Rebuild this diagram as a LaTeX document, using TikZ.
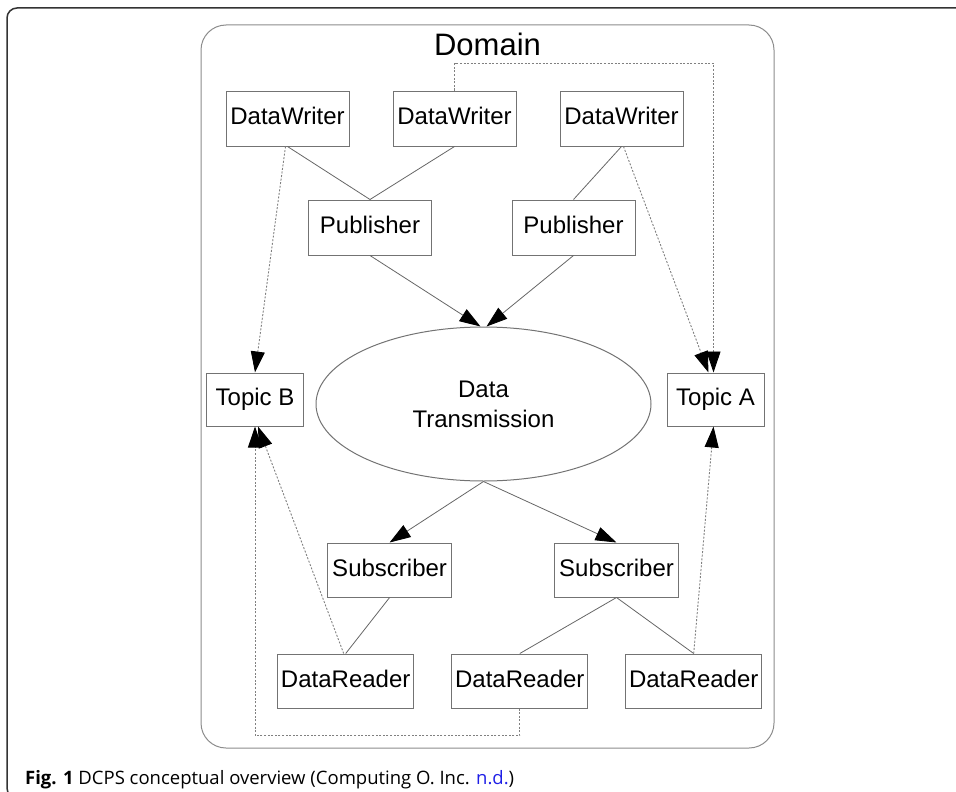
\documentclass[tikz,border=0pt]{standalone}
\usepackage{fontspec}
\setmainfont{Liberation Sans}
\newfontfamily\capfont{Open Sans}
\usetikzlibrary{shapes.geometric,arrows.meta}
\definecolor{linkblue}{RGB}{30,30,230}
\begin{document}
\begin{tikzpicture}[x=1pt,y=-1pt,
  box/.style={draw=black!55, line width=1pt, inner sep=0pt, minimum height=55pt,
    text height=17.5pt, text depth=5pt, font=\fontsize{24}{24}\selectfont, text=black},
  conn/.style={draw=black!60, line width=0.8pt},
  dotl/.style={draw=black!50, line width=0.9pt, dash pattern=on 2pt off 1.6pt},
  tip/.style={-{Triangle[length=21pt,width=14pt,color=black]}},
]
\useasboundingbox (0,0) rectangle (956,792);
% outer frame
\draw[black!80, line width=1.5pt, rounded corners=10pt] (970,8) -- (7,8) -- (7,798) -- (60,798);
% domain
\node[draw=black!45, line width=1pt, rounded corners=25pt, minimum width=573pt, minimum height=723pt, inner sep=0pt] (domain) at (487.5,386.5) {};
\node[anchor=base, inner sep=0pt, font=\fontsize{31}{31}\selectfont] (dlabel) at (487.5,56) {Domain};
% nodes
\node[box, minimum width=123pt] (dw1) at (287.5,118.5) {DataWriter};
\node[box, minimum width=123pt] (dw2) at (454.5,118.5) {DataWriter};
\node[box, minimum width=123pt] (dw3) at (621.5,118.5) {DataWriter};
\node[box, minimum width=123pt] (pub1) at (370,227.5) {Publisher};
\node[box, minimum width=123pt] (pub2) at (573.5,227.5) {Publisher};
\node[box, minimum width=97pt, minimum height=53pt] (tb) at (255,399.5) {Topic B};
\node[box, minimum width=97pt, minimum height=53pt] (ta) at (715.5,399.5) {Topic A};
\node[ellipse, draw=black!55, line width=1pt, minimum width=335pt, minimum height=154pt, inner sep=0pt,
  align=center, font=\fontsize{24}{30}\selectfont] (dt) at (483.5,404) {Data\\Transmission};
\node[box, minimum width=124pt, minimum height=54pt] (sub1) at (389.6,570) {Subscriber};
\node[box, minimum width=124pt, minimum height=54pt] (sub2) at (616.5,570) {Subscriber};
\node[box, minimum width=136pt, minimum height=54pt] (dr1) at (345.7,681) {DataReader};
\node[box, minimum width=136pt, minimum height=54pt] (dr2) at (519.8,681) {DataReader};
\node[box, minimum width=136pt, minimum height=54pt] (dr3) at (693.7,681) {DataReader};
% solid connectors
\draw[conn] (dw1.south) -- (pub1.north);
\draw[conn] (dw2.south) -- (pub1.north);
\draw[conn] (dw3.south) -- (pub2.north);
\draw[conn, tip] (pub1.south) -- ([xshift=-3pt]dt.north);
\draw[conn, tip] (pub2.south) -- ([xshift=3pt]dt.north);
\draw[conn, tip] (dt.south) -- (sub1.north);
\draw[conn, tip] (dt.south) -- (sub2.north);
\draw[conn] (sub1.south) -- (dr1.north);
\draw[conn] (sub2.south) -- (dr2.north);
\draw[conn] (sub2.south) -- (dr3.north);
% dotted connectors
\draw[dotl, tip] ([xshift=-2pt]dw1.south) -- (tb.north);
\draw[dotl, tip] ([xshift=2pt]dw3.south) -- ([xshift=-7pt]ta.north);
\draw[dotl, tip] (dw2.north) -- ++(0,-27) -| ([xshift=-2pt]ta.north);
\draw[dotl, tip] ([xshift=-2pt]dr1.north) -- ([xshift=3pt]tb.south);
\draw[dotl, tip] (dr2.south) -- ++(0,27) -| (tb.south);
\draw[dotl, tip] (dr3.north) -- ([xshift=-2pt]ta.south);
% caption
\node[anchor=base west, inner sep=0pt, font=\capfont\fontsize{18.5}{18.5}\selectfont] (cap) at (25,784)
  {\textbf{Fig. 1} DCPS conceptual overview (Computing O. Inc. \textcolor{linkblue}{n.d.})};
\end{tikzpicture}
\end{document}
